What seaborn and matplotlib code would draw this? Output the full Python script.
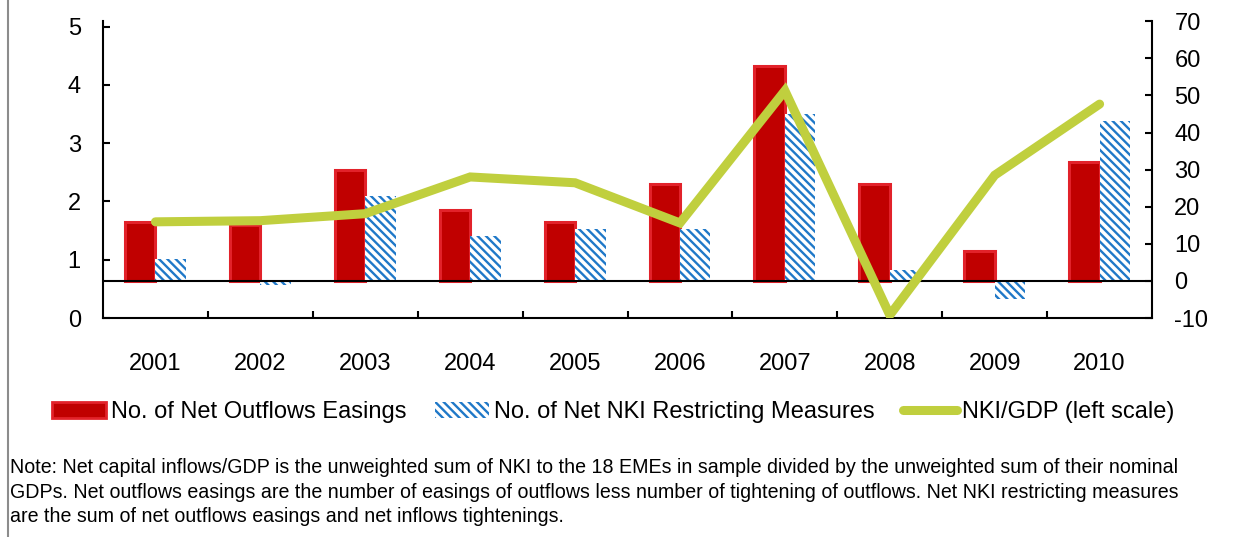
import matplotlib.pyplot as plt
import seaborn as sns
import pandas as pd
from matplotlib.patches import Patch
from matplotlib.lines import Line2D

years = ["2001", "2002", "2003", "2004", "2005", "2006", "2007", "2008", "2009", "2010"]
outflow_easings = [16, 15, 30, 19, 16, 26, 58, 26, 8, 32]
nki_restricting = [6, -1, 23, 12, 14, 14, 45, 3, -5, 43]
nki_gdp = [1.65, 1.67, 1.79, 2.42, 2.32, 1.63, 3.90, 0.05, 2.45, 3.67]

series_names = [
    "No. of Net Outflows Easings",
    "No. of Net NKI Restricting Measures",
    "NKI/GDP (left scale)",
]
note = (
    "Note: Net capital inflows/GDP is the unweighted sum of NKI to the 18 EMEs in sample divided by the unweighted sum of their nominal\n"
    "GDPs. Net outflows easings are the number of easings of outflows less number of tightening of outflows. Net NKI restricting measures\n"
    "are the sum of net outflows easings and net inflows tightenings."
)

red = "#C00000"
red_edge = "#E2222A"
blue = "#1F78C8"
green = "#C0CF3E"
hatch = "\\\\\\\\"

sns.set_style("ticks")
plt.rcParams["font.family"] = ["Liberation Sans", "DejaVu Sans"]
plt.rcParams["hatch.linewidth"] = 1.7
plt.rcParams["axes.unicode_minus"] = False
plt.rcParams["text.color"] = "black"
plt.rcParams["xtick.color"] = "black"
plt.rcParams["ytick.color"] = "black"
plt.rcParams["xtick.labelcolor"] = "black"
plt.rcParams["ytick.labelcolor"] = "black"

fig = plt.figure(figsize=(12.44, 5.37), dpi=100)
ax = fig.add_axes([0.0828, 0.4078, 0.8433, 0.5525])

df = pd.DataFrame({
    "year": years + years,
    "series": [series_names[0]] * len(years) + [series_names[1]] * len(years),
    "value": outflow_easings + nki_restricting,
})
sns.barplot(data=df, x="year", y="value", hue="series", hue_order=series_names[:2],
            palette=[red, "white"], saturation=1, width=0.58, ax=ax, legend=False)

for bar in ax.containers[0]:
    bar.set_edgecolor(red_edge)
    bar.set_linewidth(2.2)
for bar in ax.containers[1]:
    bar.set_hatch(hatch)
    bar.set_edgecolor(blue)
    bar.set_linewidth(0)

ax.axhline(0, color="black", lw=1.5, zorder=3)
ax.set_ylim(-10, 70)
ax.set_yticks(range(-10, 71, 10))
ax.yaxis.tick_right()

ax2 = ax.twinx()
sns.lineplot(x=list(range(len(years))), y=nki_gdp, ax=ax2, color=green, lw=6.5,
             solid_capstyle="round", solid_joinstyle="miter")
ax2.set_ylim(0, 5.09)
ax2.set_yticks(range(0, 6))
ax2.yaxis.tick_left()
ax.set_xlim(-0.5, len(years) - 0.5)

for a in (ax, ax2):
    a.set_xlabel("")
    a.set_ylabel("")
for s in ax2.spines.values():
    s.set_visible(False)
ax.spines["top"].set_visible(False)
for side in ("left", "right", "bottom"):
    ax.spines[side].set_visible(True)
    ax.spines[side].set_linewidth(1.5)
    ax.spines[side].set_color("black")

ax.tick_params(axis="y", direction="in", length=5, width=1.5, labelsize=17, pad=16,
               right=True, left=False, labelright=True, labelleft=False)
ax2.tick_params(axis="y", direction="in", length=5, width=1.5, labelsize=17, pad=16,
                left=True, right=False, labelleft=True, labelright=False)
ax.set_xticks([k + 0.5 for k in range(len(years) - 1)], minor=True)
ax.tick_params(axis="x", which="major", length=0, labelsize=17, pad=25)
ax.tick_params(axis="x", which="minor", direction="in", length=5, width=1.5)

handles = [
    Patch(facecolor=red, edgecolor=red_edge, lw=2),
    Patch(facecolor="white", edgecolor=blue, hatch=hatch, lw=0),
    Line2D([], [], color=green, lw=6.5, solid_capstyle="round"),
]
fig.legend(handles=handles, labels=series_names, loc="center", bbox_to_anchor=(0.493, 0.2325),
           ncol=3, frameon=False, fontsize=17, handlelength=2.3, handletextpad=0.2,
           columnspacing=1.2, handleheight=0.65)

fig.text(0.008, 1 - 458 / 537, note, fontsize=14.1, va="top", ha="left", linespacing=1.38)
fig.add_artist(Line2D([0.0065, 0.0065], [0, 1], transform=fig.transFigure, color="#8C8C8C", lw=1.5))

fig.savefig("out.png", dpi=100)
